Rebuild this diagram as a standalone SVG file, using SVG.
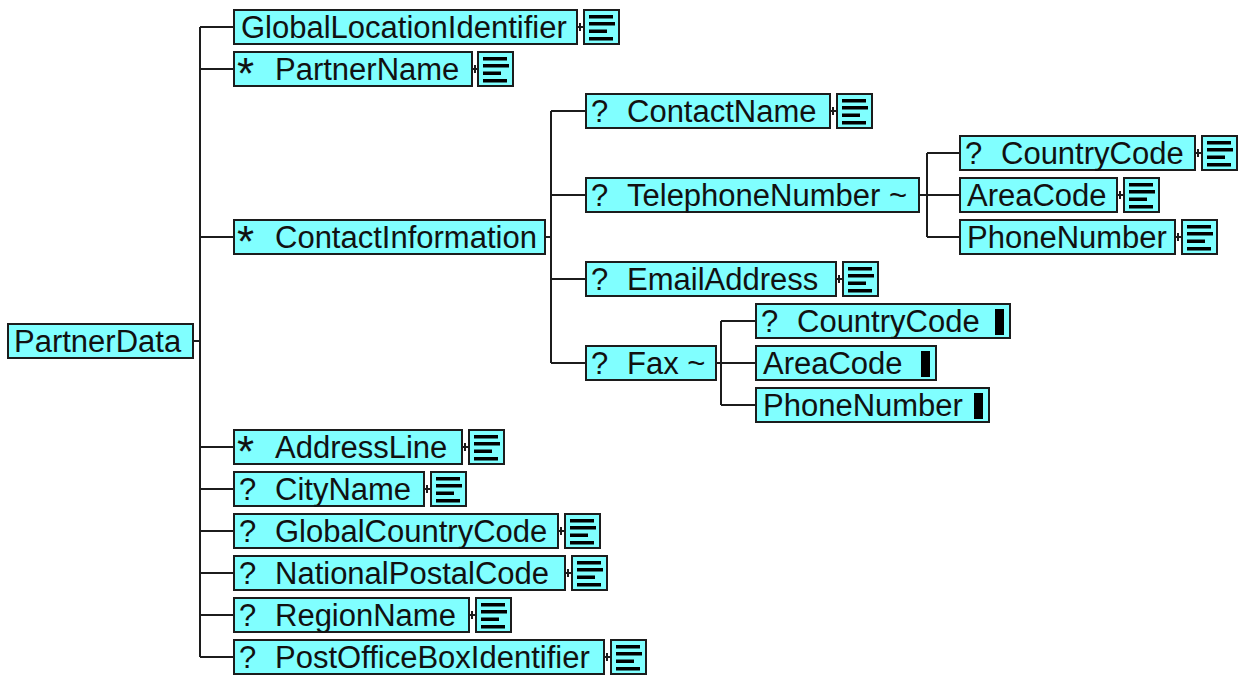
<svg xmlns="http://www.w3.org/2000/svg" xmlns:xlink="http://www.w3.org/1999/xlink" width="1241" height="675" viewBox="0 0 1241 675">
<style>
.box{fill:#80ffff;stroke:#1c1c1c;stroke-width:2}
.t{font-family:"Liberation Sans",Arial,sans-serif;font-size:31px;fill:#111}
.star{font-family:"Liberation Sans",Arial,sans-serif;font-size:44px;fill:#111}
.ln{fill:none;stroke:#1c1c1c;stroke-width:2}
.bar{fill:#000}
</style>
<defs>
<symbol id="doc" viewBox="0 0 37 36" width="37" height="36">
<rect x="1" y="1" width="35" height="34" fill="#80ffff" stroke="#1c1c1c" stroke-width="2"/>
<rect x="6" y="6" width="24" height="3.5" fill="#000"/>
<rect x="6" y="13" width="26" height="3.5" fill="#000"/>
<rect x="6" y="20.5" width="18" height="3.5" fill="#000"/>
<rect x="6" y="28" width="24" height="3.5" fill="#000"/>
</symbol>
</defs>
<rect width="1241" height="675" fill="#fff"/>
<g id="connectors" class="ln">
<path d="M194 341H200M200 27V657"/>
<path d="M200 27H233M200 69H233M200 237H233M200 447H233M200 489H233M200 531H233M200 573H233M200 615H233M200 657H233"/>
<path d="M546 237H551M551 111V363M551 111H585M551 195H585M551 279H585M551 363H585"/>
<path d="M920 195H927M927 153V237M927 153H959M927 195H959M927 237H959"/>
<path d="M717 363H721M721 321V405M721 321H755M721 363H755M721 405H755"/>
<path d="M578 27H583M580 23V31M473 69H477M475 65V73M463 447H468M465 443V451M425 489H430M427 485V493M559 531H564M561 527V535M566 573H571M568 569V577M470 615H475M472 611V619M605 657H610M607 653V661"/>
<path d="M831 111H836M833 107V115M837 279H842M839 275V283"/>
<path d="M1196 153H1201M1198 149V157M1118 195H1123M1120 191V199M1176 237H1181M1178 233V241"/>
</g>
<g id="PartnerData"><rect class="box" x="8" y="324" width="185" height="34"/><text class="t" x="14" y="352">PartnerData</text></g>
<g id="GlobalLocationIdentifier"><rect class="box" x="234" y="10" width="343" height="34"/><text class="t" x="241" y="38">GlobalLocationIdentifier</text><use xlink:href="#doc" x="583" y="9"/></g>
<g id="PartnerName"><rect class="box" x="234" y="52" width="238" height="34"/><text class="star" x="237" y="89">*</text><text class="t" x="275" y="80">PartnerName</text><use xlink:href="#doc" x="477" y="51"/></g>
<g id="ContactInformation"><rect class="box" x="234" y="220" width="311" height="34"/><text class="star" x="237" y="257">*</text><text class="t" x="275" y="248">ContactInformation</text></g>
<g id="AddressLine"><rect class="box" x="234" y="430" width="228" height="34"/><text class="star" x="237" y="467">*</text><text class="t" x="275" y="458">AddressLine</text><use xlink:href="#doc" x="468" y="429"/></g>
<g id="CityName"><rect class="box" x="234" y="472" width="190" height="34"/><text class="t" x="239" y="500">?</text><text class="t" x="275" y="500">CityName</text><use xlink:href="#doc" x="430" y="471"/></g>
<g id="GlobalCountryCode"><rect class="box" x="234" y="514" width="324" height="34"/><text class="t" x="239" y="542">?</text><text class="t" x="275" y="542">GlobalCountryCode</text><use xlink:href="#doc" x="564" y="513"/></g>
<g id="NationalPostalCode"><rect class="box" x="234" y="556" width="331" height="34"/><text class="t" x="239" y="584">?</text><text class="t" x="275" y="584">NationalPostalCode</text><use xlink:href="#doc" x="571" y="555"/></g>
<g id="RegionName"><rect class="box" x="234" y="598" width="235" height="34"/><text class="t" x="239" y="626">?</text><text class="t" x="275" y="626">RegionName</text><use xlink:href="#doc" x="475" y="597"/></g>
<g id="PostOfficeBoxIdentifier"><rect class="box" x="234" y="640" width="370" height="34"/><text class="t" x="239" y="668">?</text><text class="t" x="275" y="668">PostOfficeBoxIdentifier</text><use xlink:href="#doc" x="610" y="639"/></g>
<g id="ContactName"><rect class="box" x="586" y="94" width="244" height="34"/><text class="t" x="591" y="122">?</text><text class="t" x="627" y="122">ContactName</text><use xlink:href="#doc" x="836" y="93"/></g>
<g id="TelephoneNumber"><rect class="box" x="586" y="178" width="333" height="34"/><text class="t" x="591" y="206">?</text><text class="t" x="627" y="206">TelephoneNumber ~</text></g>
<g id="EmailAddress"><rect class="box" x="586" y="262" width="250" height="34"/><text class="t" x="591" y="290">?</text><text class="t" x="627" y="290">EmailAddress</text><use xlink:href="#doc" x="842" y="261"/></g>
<g id="Fax"><rect class="box" x="586" y="346" width="130" height="34"/><text class="t" x="591" y="374">?</text><text class="t" x="627" y="374">Fax ~</text></g>
<g id="TelCountryCode"><rect class="box" x="960" y="136" width="235" height="34"/><text class="t" x="965" y="164">?</text><text class="t" x="1001" y="164">CountryCode</text><use xlink:href="#doc" x="1201" y="135"/></g>
<g id="TelAreaCode"><rect class="box" x="960" y="178" width="157" height="34"/><text class="t" x="967" y="206">AreaCode</text><use xlink:href="#doc" x="1123" y="177"/></g>
<g id="TelPhoneNumber"><rect class="box" x="960" y="220" width="215" height="34"/><text class="t" x="967" y="248">PhoneNumber</text><use xlink:href="#doc" x="1181" y="219"/></g>
<g id="FaxCountryCode"><rect class="box" x="756" y="304" width="254" height="34"/><text class="t" x="761" y="332">?</text><text class="t" x="797" y="332">CountryCode</text><rect class="bar" x="995" y="309" width="9" height="26"/></g>
<g id="FaxAreaCode"><rect class="box" x="756" y="346" width="180" height="34"/><text class="t" x="763" y="374">AreaCode</text><rect class="bar" x="921" y="351" width="9" height="26"/></g>
<g id="FaxPhoneNumber"><rect class="box" x="756" y="388" width="233" height="34"/><text class="t" x="763" y="416">PhoneNumber</text><rect class="bar" x="974" y="393" width="9" height="26"/></g>
</svg>
